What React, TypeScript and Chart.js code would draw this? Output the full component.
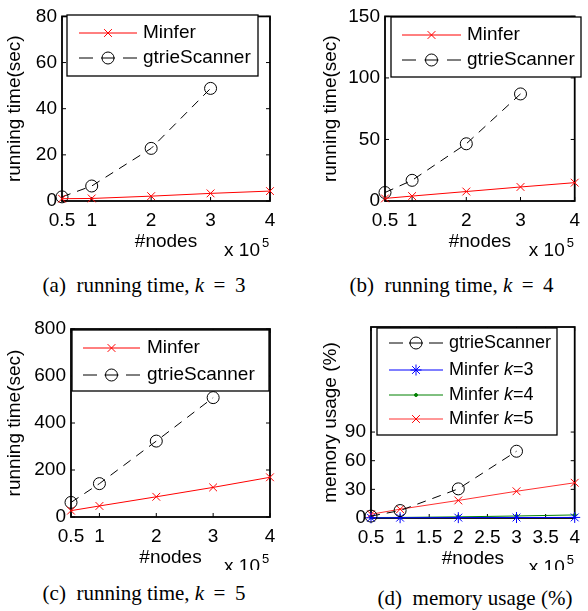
import React, { useEffect, useRef } from 'react';
import { Chart, registerables } from 'chart.js';
Chart.register(...registerables);

// ---------- data ----------
const nodesX = [0.5, 1, 2, 3, 4];
const gtrieX = [0.5, 1, 2, 3];
const xTicksRun = [0.5, 1, 2, 3, 4];
const xTicksMem = [0.5, 1, 1.5, 2, 2.5, 3, 3.5, 4];

const minferK3 = [1.0, 1.1, 2.1, 3.3, 4.3];
const gtrieK3 = [1.8, 6.5, 22.8, 48.8];
const minferK4 = [2.1, 4.0, 7.7, 11.4, 14.9];
const gtrieK4 = [6.9, 16.8, 46.5, 87.0];
const minferK5 = [27, 47, 86, 126, 169];
const gtrieK5 = [62, 142, 323, 508];

const memGtrie = [2, 7.8, 30.5, 69.9];
const memMinferK3 = [0.2, 0.3, 0.4, 0.5, 0.6];
const memMinferK4 = [0.5, 0.6, 1.2, 2.1, 3.2];
const memMinferK5 = [3.9, 9.2, 18.4, 28, 36.9];

const yTicksA = [0, 20, 40, 60, 80];
const yTicksB = [0, 50, 100, 150];
const yTicksC = [0, 200, 400, 600, 800];
const yTicksD = [0, 30, 60, 90];

const FONT = 'Liberation Sans';

const zip = (xs: number[], ys: number[]) => ys.map((y, i) => ({ x: xs[i], y }));

// ---------- marker drawing ----------
function drawMarker(ctx: CanvasRenderingContext2D, style: string, x: number, y: number, r: number, stroke: string, fill: string) {
  ctx.save();
  ctx.setLineDash([]);
  ctx.strokeStyle = stroke;
  ctx.fillStyle = fill;
  ctx.lineWidth = 1;
  ctx.beginPath();
  const o = r * Math.SQRT1_2;
  if (style === 'crossRot') {
    ctx.moveTo(x - o, y - o); ctx.lineTo(x + o, y + o);
    ctx.moveTo(x - o, y + o); ctx.lineTo(x + o, y - o);
    ctx.stroke();
  } else if (style === 'star') {
    ctx.moveTo(x - r, y); ctx.lineTo(x + r, y);
    ctx.moveTo(x, y - r); ctx.lineTo(x, y + r);
    ctx.moveTo(x - o, y - o); ctx.lineTo(x + o, y + o);
    ctx.moveTo(x - o, y + o); ctx.lineTo(x + o, y - o);
    ctx.stroke();
  } else {
    ctx.arc(x, y, r, 0, Math.PI * 2);
    if (fill && fill !== 'transparent') ctx.fill();
    ctx.stroke();
  }
  ctx.restore();
}

// ---------- plugins ----------
const framePlugin = {
  id: 'frame',
  beforeDatasetsDraw(chart: any) {
    const { ctx, chartArea } = chart;
    const { left, top, right, bottom } = chartArea;
    const sx = chart.scales.x, sy = chart.scales.y;
    ctx.save();
    ctx.strokeStyle = '#000';
    ctx.lineWidth = 1;
    for (const t of sx.ticks) {
      const px = sx.getPixelForValue(t.value);
      ctx.beginPath();
      ctx.moveTo(px, bottom); ctx.lineTo(px, bottom - 4);
      ctx.moveTo(px, top); ctx.lineTo(px, top + 4);
      ctx.stroke();
    }
    for (const t of sy.ticks) {
      const py = sy.getPixelForValue(t.value);
      ctx.beginPath();
      ctx.moveTo(left, py); ctx.lineTo(left + 4, py);
      ctx.moveTo(right, py); ctx.lineTo(right - 4, py);
      ctx.stroke();
    }
    ctx.lineWidth = 1.8;
    ctx.strokeRect(left, top, right - left, bottom - top);
    ctx.restore();
  },
  afterDraw(chart: any) {
    const { ctx, chartArea } = chart;
    const { right, bottom } = chartArea;
    ctx.save();
    ctx.fillStyle = '#000';
    ctx.font = `19px "${FONT}"`;
    ctx.textAlign = 'right';
    ctx.textBaseline = 'middle';
    ctx.fillText('x 10', right - 10, bottom + 50);
    ctx.font = `13px "${FONT}"`;
    ctx.textAlign = 'left';
    ctx.fillText('5', right - 8, bottom + 42);
    ctx.restore();
  },
};

const boxLegendPlugin = {
  id: 'boxLegend',
  afterDatasetsDraw(chart: any, _args: any, opts: any) {
    const { ctx } = chart;
    const [l, t, r, b] = opts.box;
    ctx.save();
    ctx.fillStyle = '#fff';
    ctx.fillRect(l, t, r - l, b - t);
    ctx.strokeStyle = '#000';
    ctx.lineWidth = 1.3;
    ctx.strokeRect(l, t, r - l, b - t);
    const fontSize = opts.fontSize;
    chart.data.datasets.forEach((ds: any, i: number) => {
      const y = opts.rows[i];
      const x0 = opts.lineX[0], x1 = opts.lineX[1];
      const xm = (x0 + x1) / 2;
      ctx.strokeStyle = ds.borderColor;
      ctx.lineWidth = ds.borderWidth;
      ctx.beginPath();
      if (ds.borderDash && ds.borderDash.length) {
        ctx.moveTo(x0, y); ctx.lineTo(x0 + 14, y);
        ctx.moveTo(xm - 7, y); ctx.lineTo(xm + 7, y);
        ctx.moveTo(x1 - 14, y); ctx.lineTo(x1, y);
      } else {
        ctx.moveTo(x0, y); ctx.lineTo(x1, y);
      }
      ctx.stroke();
      drawMarker(ctx, ds.pointStyle, xm, y, ds.pointRadius, ds.pointBorderColor, ds.pointBackgroundColor);
      ctx.fillStyle = '#000';
      ctx.textBaseline = 'middle';
      ctx.textAlign = 'left';
      const m = /^(.*)\bk(=.*)$/.exec(ds.label);
      let tx = opts.textX;
      if (m) {
        ctx.font = `${fontSize}px "${FONT}"`;
        ctx.fillText(m[1], tx, y);
        tx += ctx.measureText(m[1]).width;
        ctx.font = `italic ${fontSize}px "${FONT}"`;
        ctx.fillText('k', tx, y);
        tx += ctx.measureText('k').width;
        ctx.font = `${fontSize}px "${FONT}"`;
        ctx.fillText(m[2], tx, y);
      } else {
        ctx.font = `${fontSize}px "${FONT}"`;
        ctx.fillText(ds.label, tx, y);
      }
    });
    ctx.restore();
  },
};

// ---------- dataset builders ----------
const minferDs = (label: string, data: any[], color = '#ff0000') => ({
  label, data, borderColor: color, backgroundColor: color, borderWidth: 1,
  pointStyle: 'crossRot', pointRadius: 5.5, pointBorderColor: '#ff0000', pointBackgroundColor: '#ff0000',
  pointBorderWidth: 1, tension: 0, clip: false as any,
});
const gtrieDs = (data: any[]) => ({
  label: 'gtrieScanner', data, borderColor: '#000', backgroundColor: 'transparent', borderWidth: 1,
  borderDash: [9, 7], pointStyle: 'circle', pointRadius: 6, pointBorderColor: '#000',
  pointBackgroundColor: 'transparent', pointBorderWidth: 1, tension: 0, clip: false as any,
});

type PanelCfg = {
  datasets: any[];
  yMax: number;
  yTicks: number[];
  xTicks: number[];
  yTitle: string;
  plot: [number, number, number, number];
  yTitlePad: number;
  legend: any;
};

const CW = 294, CH = 270;

function buildConfig(p: PanelCfg): any {
  const [L, T, R, B] = p.plot;
  const xH = CH - B;
  return {
    type: 'line',
    data: { datasets: p.datasets },
    plugins: [framePlugin, boxLegendPlugin],
    options: {
      animation: false,
      responsive: false,
      maintainAspectRatio: false,
      layout: { padding: { left: 0, top: T, right: CW - R, bottom: 0 } },
      plugins: {
        legend: { display: false },
        tooltip: { enabled: false },
        boxLegend: p.legend,
      },
      scales: {
        x: {
          type: 'linear', min: 0.5, max: 4,
          afterBuildTicks: (s: any) => { s.ticks = p.xTicks.map((v) => ({ value: v })); },
          afterFit: (s: any) => { s.height = xH; },
          grid: { display: false, drawTicks: false },
          border: { display: false },
          ticks: { color: '#000', font: { family: FONT, size: 19 }, padding: 8, maxRotation: 0, autoSkip: false, callback: (v: any) => String(v) },
          title: { display: true, text: '#nodes', color: '#000', font: { family: FONT, size: 19, lineHeight: 1 }, padding: { top: 0, bottom: xH - 50 } },
        },
        y: {
          type: 'linear', min: 0, max: p.yMax,
          afterBuildTicks: (s: any) => { s.ticks = p.yTicks.map((v) => ({ value: v })); },
          afterFit: (s: any) => { s.width = L; },
          grid: { display: false, drawTicks: false },
          border: { display: false },
          ticks: { color: '#000', font: { family: FONT, size: 19 }, padding: 5, autoSkip: false, callback: (v: any) => String(v) },
          title: { display: true, text: p.yTitle, color: '#000', font: { family: FONT, size: 19, lineHeight: 1 }, padding: { top: p.yTitlePad, bottom: 0 } },
        },
      },
    },
  };
}

function Panel({ cfg, left, top }: { cfg: PanelCfg; left: number; top: number }) {
  const ref = useRef<HTMLCanvasElement>(null);
  useEffect(() => {
    if (!ref.current) return;
    const chart = new Chart(ref.current, buildConfig(cfg));
    return () => chart.destroy();
  }, []);
  return (
    <canvas ref={ref} width={CW} height={CH}
      style={{ position: 'absolute', left, top, width: CW, height: CH }} />
  );
}

const panelA: PanelCfg = {
  datasets: [minferDs('Minfer', zip(nodesX, minferK3)), gtrieDs(zip(gtrieX, gtrieK3))],
  yMax: 80, yTicks: yTicksA, xTicks: xTicksRun, yTitle: 'running time(sec)',
  plot: [62, 13, 270, 201], yTitlePad: 5.5,
  legend: { box: [67, 15, 258, 76], rows: [33, 58], lineX: [79, 137], textX: 143, fontSize: 19 },
};
const panelB: PanelCfg = {
  datasets: [minferDs('Minfer', zip(nodesX, minferK4)), gtrieDs(zip(gtrieX, gtrieK4))],
  yMax: 150, yTicks: yTicksB, xTicks: xTicksRun, yTitle: 'running time(sec)',
  plot: [91, 13, 289, 201], yTitlePad: 27.5,
  legend: { box: [97, 17, 287, 77], rows: [35, 60], lineX: [108, 167], textX: 173, fontSize: 19 },
};
const panelC: PanelCfg = {
  datasets: [minferDs('Minfer', zip(nodesX, minferK5)), gtrieDs(zip(gtrieX, gtrieK5))],
  yMax: 800, yTicks: yTicksC, xTicks: xTicksRun, yTitle: 'running time(sec)',
  plot: [71, 29, 270, 217], yTitlePad: 5.5,
  legend: { box: [72, 30, 269, 91], rows: [48, 75], lineX: [83, 140], textX: 147, fontSize: 19 },
};
const panelD: PanelCfg = {
  datasets: [
    gtrieDs(zip(gtrieX, memGtrie)),
    { ...minferDs('Minfer k=3', zip(nodesX, memMinferK3), '#0000ff'), pointStyle: 'star', pointRadius: 5.5, pointBorderColor: '#0000ff', pointBackgroundColor: '#0000ff' },
    { ...minferDs('Minfer k=4', zip(nodesX, memMinferK4), '#008000'), pointStyle: 'circle', pointRadius: 1.5, pointBorderColor: '#008000', pointBackgroundColor: '#008000' },
    { ...minferDs('Minfer k=5', zip(nodesX, memMinferK5), '#ff3030') },
  ],
  yMax: 200, yTicks: yTicksD, xTicks: xTicksMem, yTitle: 'memory usage (%)',
  plot: [77, 27, 289, 218], yTitlePad: 27.5,
  legend: { box: [83, 28, 263, 135], rows: [43, 70, 95, 119], lineX: [95, 149], textX: 155, fontSize: 18 },
};

function Caption({ cx, cy, children }: { cx: number; cy: number; children: React.ReactNode }) {
  return (
    <div style={{
      position: 'absolute', left: cx - 150, top: cy - 12, width: 300, height: 24, lineHeight: '24px',
      textAlign: 'center', fontFamily: '"Liberation Serif"', fontSize: '21px', color: '#000', whiteSpace: 'nowrap',
    }}>{children}</div>
  );
}

const mathEq = { margin: '0 0.45em' };
const tag = { marginRight: '0.5em' };

export default function App() {
  return (
    <div style={{ position: 'absolute', left: 0, top: 0, width: 588, height: 611, background: '#fff', overflow: 'hidden' }}>
      <Panel cfg={panelA} left={0} top={0} />
      <Panel cfg={panelB} left={294} top={0} />
      <Panel cfg={panelC} left={0} top={300} />
      <Panel cfg={panelD} left={294} top={300} />
      <Caption cx={144} cy={285}><span style={tag}>(a)</span>running time, <i>k</i><span style={mathEq}>=</span>3</Caption>
      <Caption cx={451.5} cy={285}><span style={tag}>(b)</span>running time, <i>k</i><span style={mathEq}>=</span>4</Caption>
      <Caption cx={144} cy={593}><span style={tag}>(c)</span>running time, <i>k</i><span style={mathEq}>=</span>5</Caption>
      <Caption cx={475} cy={598}><span style={tag}>(d)</span>memory usage (%)</Caption>
    </div>
  );
}
